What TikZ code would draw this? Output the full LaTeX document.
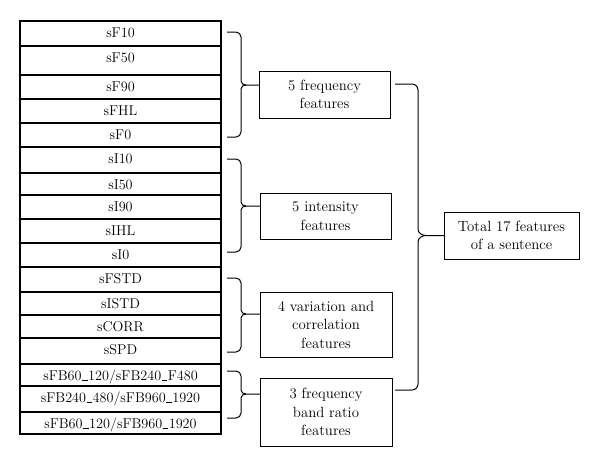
\documentclass[tikz,border=0pt]{standalone}
\usetikzlibrary{calc}
\newcommand{\usc}{\kern0.03em\rule[-0.2pt]{0.4em}{0.6pt}\kern0.03em}
\begin{document}
\begin{tikzpicture}[x=1pt,y=-1pt,
  rowbox/.style={draw,line width=1.1pt,minimum width=201pt,inner sep=0pt,outer sep=0pt},
  rowtxt/.style={anchor=base,font=\fontsize{14.2}{16}\selectfont,inner sep=0pt},
  grpbox/.style={draw,line width=1pt,inner sep=0pt,outer sep=0pt,align=center,font=\fontsize{14.8}{18.5}\selectfont},
  brc/.style={line width=1pt,line join=round}]
\useasboundingbox (0,0) rectangle (600,467);
% rows
\foreach \i/\t/\b/\lab in {1/21/46/sF10,2/46/75/sF50,3/75/99/sF90,4/99/123/sFHL,5/123/147/sF0,
  6/147/173/sI10,7/173/195/sI50,8/195/219/sI90,9/219/243/sIHL,10/243/267/sI0,
  11/267/292/sFSTD,12/292/315/sISTD,13/315/338/sCORR,14/338/364/sSPD,
  15/364/386/{sFB60\usc120/sFB240\usc F480},16/386/412/{sFB240\usc480/sFB960\usc1920},17/412/434/{sFB60\usc120/sFB960\usc1920}}{
  \node[rowbox,minimum height={\b-\t}] (r\i) at (120.5,{(\t+\b)/2}) {};
  \node[rowtxt] (l\i) at (120.5,\t+16) {\lab};
}
% group boxes
\node[grpbox,minimum width=131pt,minimum height=47pt] (g1) at (324.5,94.5) {5 frequency\\features};
\node[grpbox,minimum width=131pt,minimum height=46pt] (g2) at (325.5,216) {5 intensity\\features};
\node[grpbox,minimum width=132pt,minimum height=65pt] (g3) at (326,324.5) {4 variation and\\correlation\\features};
\node[grpbox,minimum width=132pt,minimum height=68pt] (g4) at (326,412) {3 frequency\\band ratio\\features};
\node[grpbox,minimum width=135pt,minimum height=47pt] (tot) at (511.5,235.5) {Total 17 features\\of a sentence};
% braces
\newcommand{\mybrace}[4]{% top, bottom, tipy, target
  \draw[brc] (227,#1) -- (236,#1) to[out=0,in=90] (241,#1+5) -- (241,#3-4)
    to[out=-90,in=180] (246,#3) -- (#4.west |- 0,#3);
  \draw[brc] (227,#2) -- (236,#2) to[out=0,in=-90] (241,#2-5) -- (241,#3+4)
    to[out=90,in=180] (246,#3);
}
\mybrace{32}{137}{85}{g1}
\mybrace{159}{252}{206}{g2}
\mybrace{278}{352}{314}{g3}
\mybrace{371}{418}{394}{g4}
% big brace
\draw[brc] (395,84) -- (412,84) to[out=0,in=90] (418,90) -- (418,229)
  to[out=-90,in=180] (426,235.5) -- (tot.west);
\draw[brc] (395,390) -- (412,390) to[out=0,in=-90] (418,384) -- (418,242)
  to[out=90,in=180] (426,235.5);
\end{tikzpicture}
\end{document}
